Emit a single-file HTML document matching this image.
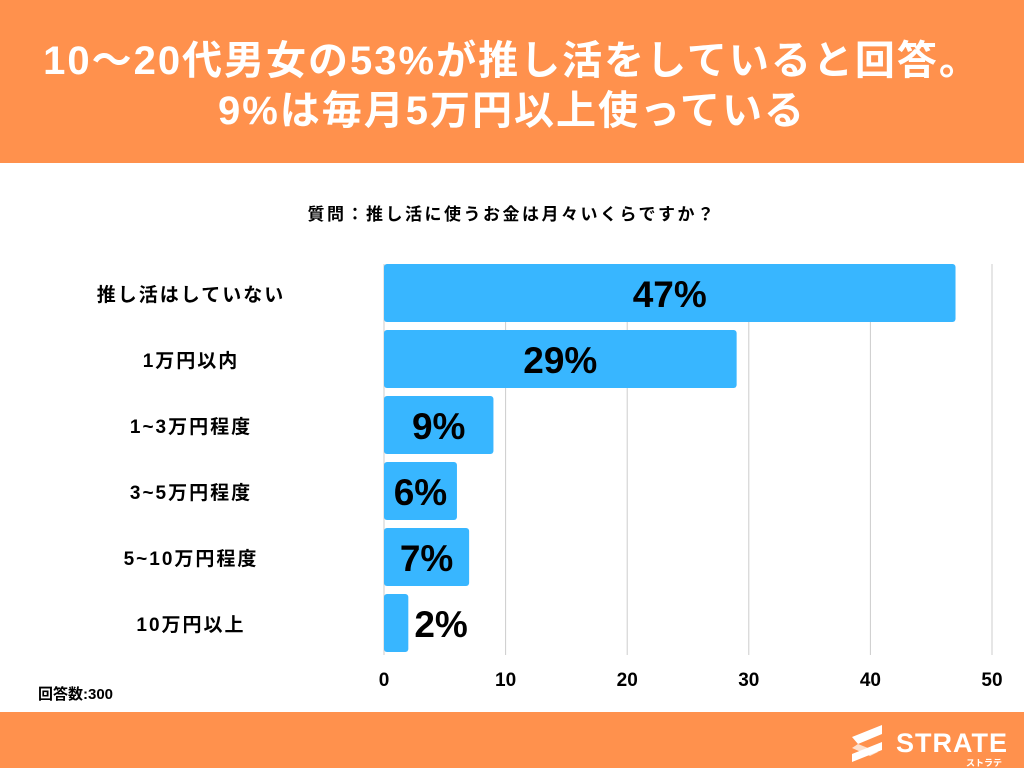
<!DOCTYPE html>
<html><head><meta charset="utf-8"><style>
body{margin:0;width:1024px;height:768px;overflow:hidden;background:#fff;font-family:"Liberation Sans","Noto Sans CJK JP",sans-serif;}
#hdr{position:absolute;left:0;top:0;width:1024px;height:163px;background:#ff914d;color:#fff;font-weight:bold;font-size:40px;letter-spacing:2px;text-align:center;line-height:50px;}
#ftr{position:absolute;left:0;top:712px;width:1024px;height:56px;background:#ff914d;}
</style></head><body>
<div id="hdr"><div style="padding-top:36px">10～20代男女の53%が推し活をしていると回答。<br>9%は毎月5万円以上使っている</div></div>
<div id="ftr">
<svg width="1024" height="56" style="position:absolute;left:0;top:0">
<polygon points="852,25 882,13 882,22 858,32" fill="#fff"/>
<polygon points="858,32 878,40 870,44 852,36" fill="#fde0cc"/>
<polygon points="852,48 882,36 882,44 852,56" fill="#fff" transform="translate(0,-6)"/>
<text x="896" y="40" fill="#fff" font-size="27" font-weight="bold" font-family="Liberation Sans, sans-serif" letter-spacing="1">STRATE</text>
<text x="966" y="54" fill="#fff" font-size="9" font-weight="bold" font-family="Noto Sans CJK JP, sans-serif">ストラテ</text>
</svg></div>
<svg id="chart" width="1024" height="712" style="position:absolute;left:0;top:0"></svg>
<script>
const categories=["推し活はしていない","1万円以内","1~3万円程度","3~5万円程度","5~10万円程度","10万円以上"];
const values=[47,29,9,6,7,2];
const ticks=[0,10,20,30,40,50];
const NS="http://www.w3.org/2000/svg";
const svg=document.getElementById('chart');
const x=v=>384+v*(992-384)/50;
const y=i=>264+i*66;
function mk(t,a,txt){const e=document.createElementNS(NS,t);for(const k in a)e.setAttribute(k,a[k]);if(txt!=null)e.textContent=txt;svg.appendChild(e);return e;}
let q=mk('text',{x:512,y:220,'text-anchor':'middle','font-size':17,'letter-spacing':2.5,'font-weight':'bold',fill:'#000'},'質問：推し活に使うお金は月々いくらですか？');


ticks.forEach(t=>{
 let g=mk('line',{x1:x(t),x2:x(t),y1:264,y2:655,stroke:'#cccccc','stroke-width':1});
 
 
 let l=mk('text',{x:x(t),y:686,'text-anchor':'middle','font-size':19,'font-weight':'bold',fill:'#000'},t);
 
 
});
values.forEach((v,i)=>{
 let r=mk('rect',{x:x(0),y:y(i),width:x(v)-x(0),height:58,rx:3,fill:'#38b6ff'});
 
 
 let c=mk('text',{x:191,y:y(i)+37,'text-anchor':'middle','font-size':19,'letter-spacing':2,'font-weight':'bold',fill:'#000'},categories[i]);
 
 
 let inside=v>=5;
 let lb=mk('text',{x:inside?(x(0)+x(v))/2:x(v)+6,y:y(i)+43,'text-anchor':inside?'middle':'start','font-size':37,'font-weight':'bold',fill:'#000'},v+'%');
 
 
});
let n=mk('text',{x:38,y:699,'font-size':15,'font-weight':'bold',fill:'#000'},'回答数:300');


</script>
</body></html>
